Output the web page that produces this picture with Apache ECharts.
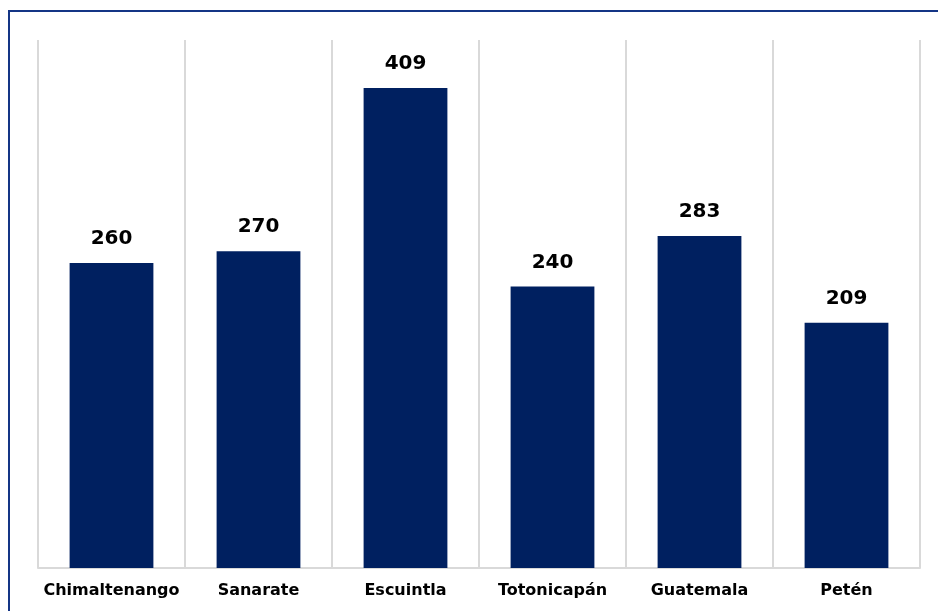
<!DOCTYPE html>
<html><head><meta charset="utf-8">
<script src="https://cdn.jsdelivr.net/npm/echarts@6/dist/echarts.min.js"></script>
<style>
html,body{margin:0;padding:0;background:#fff;}
#frame{position:absolute;left:8px;top:10px;width:930px;height:601px;border-top:2px solid #143585;border-left:2px solid #143585;box-sizing:border-box;}
#chart{position:absolute;left:0;top:0;width:938px;height:611px;}
</style></head>
<body>
<div id="frame"></div>
<div id="chart"></div>
<script>
const categories = ['Chimaltenango','Sanarate','Escuintla','Totonicapán','Guatemala','Petén'];
const values = [260, 270, 409, 240, 283, 209];

const chart = echarts.init(document.getElementById('chart'), null, {renderer:'canvas'});
chart.setOption({
  animation:false,
  grid:{left:38, right:18, top:40, bottom:43, containLabel:false},
  xAxis:{
    type:'category', data:categories,
    axisLine:{show:true, lineStyle:{color:'#d9d9d9', width:2}},
    axisTick:{show:false},
    splitLine:{show:true, interval:0, lineStyle:{color:'#d9d9d9', width:2}},
    axisLabel:{interval:0, color:'#000', fontFamily:'DejaVu Sans', fontWeight:'bold', fontSize:16, margin:15}
  },
  yAxis:{type:'value', min:0, max:450, show:false, splitLine:{show:false}},
  series:[{
    type:'bar', data:values, barWidth:'57%',
    itemStyle:{color:'#002060'},
    label:{show:true, position:'top', distance:14, color:'#000', fontFamily:'DejaVu Sans', fontWeight:'bold', fontSize:20}
  }]
});
</script>
</body></html>
